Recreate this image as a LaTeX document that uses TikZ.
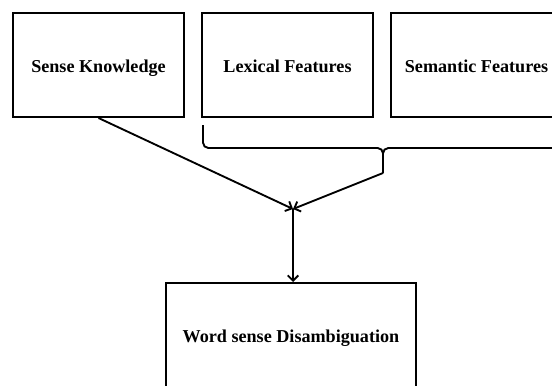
\documentclass[tikz,border=0pt]{standalone}
\usepackage{fontspec}
\setmainfont{Liberation Serif}
\usetikzlibrary{arrows.meta, positioning}

\tikzset{
    featbox/.style={draw, line width=1.5pt, minimum width=128.25pt, minimum height=78pt, inner sep=0pt, text height=12pt, text depth=1.5pt, font=\fontsize{13.6}{16}\selectfont\bfseries},
    link/.style={line width=1.4pt},
    flow/.style={link, -{Straight Barb[length=4pt, width=8pt]}}
}

\begin{document}
\begin{tikzpicture}[x=0.75pt, y=-0.75pt]
        \path[use as bounding box, clip] (0,0) rectangle (552,385);

        % Feature boxes
        \node[featbox] (sense) at (98.5,65) {Sense Knowledge};
        \node[featbox] (lexical) at (287.5,65) {Lexical Features};
        \node[featbox] (semantic) at (476.5,65) {Semantic Features};

        % Target box
        \node[featbox, minimum width=187.5pt] (wsd) at (291,335) {Word sense Disambiguation};

        % Brace under lexical and semantic features
        \coordinate (tip) at (383,173);
        \coordinate (merge) at (293,209);
        \draw[link, rounded corners=4pt] (203,125) -- (203,148) -- (383,148) -- (tip);
        \draw[link, rounded corners=4pt] (563,125) -- (563,148) -- (383,148) -- (tip);

        % Arrows
        \draw[flow] (sense.south) -- (merge);
        \draw[flow] (tip) -- (merge);
        \draw[flow] (merge) -- (merge |- wsd.north);
    \end{tikzpicture}
\end{document}
